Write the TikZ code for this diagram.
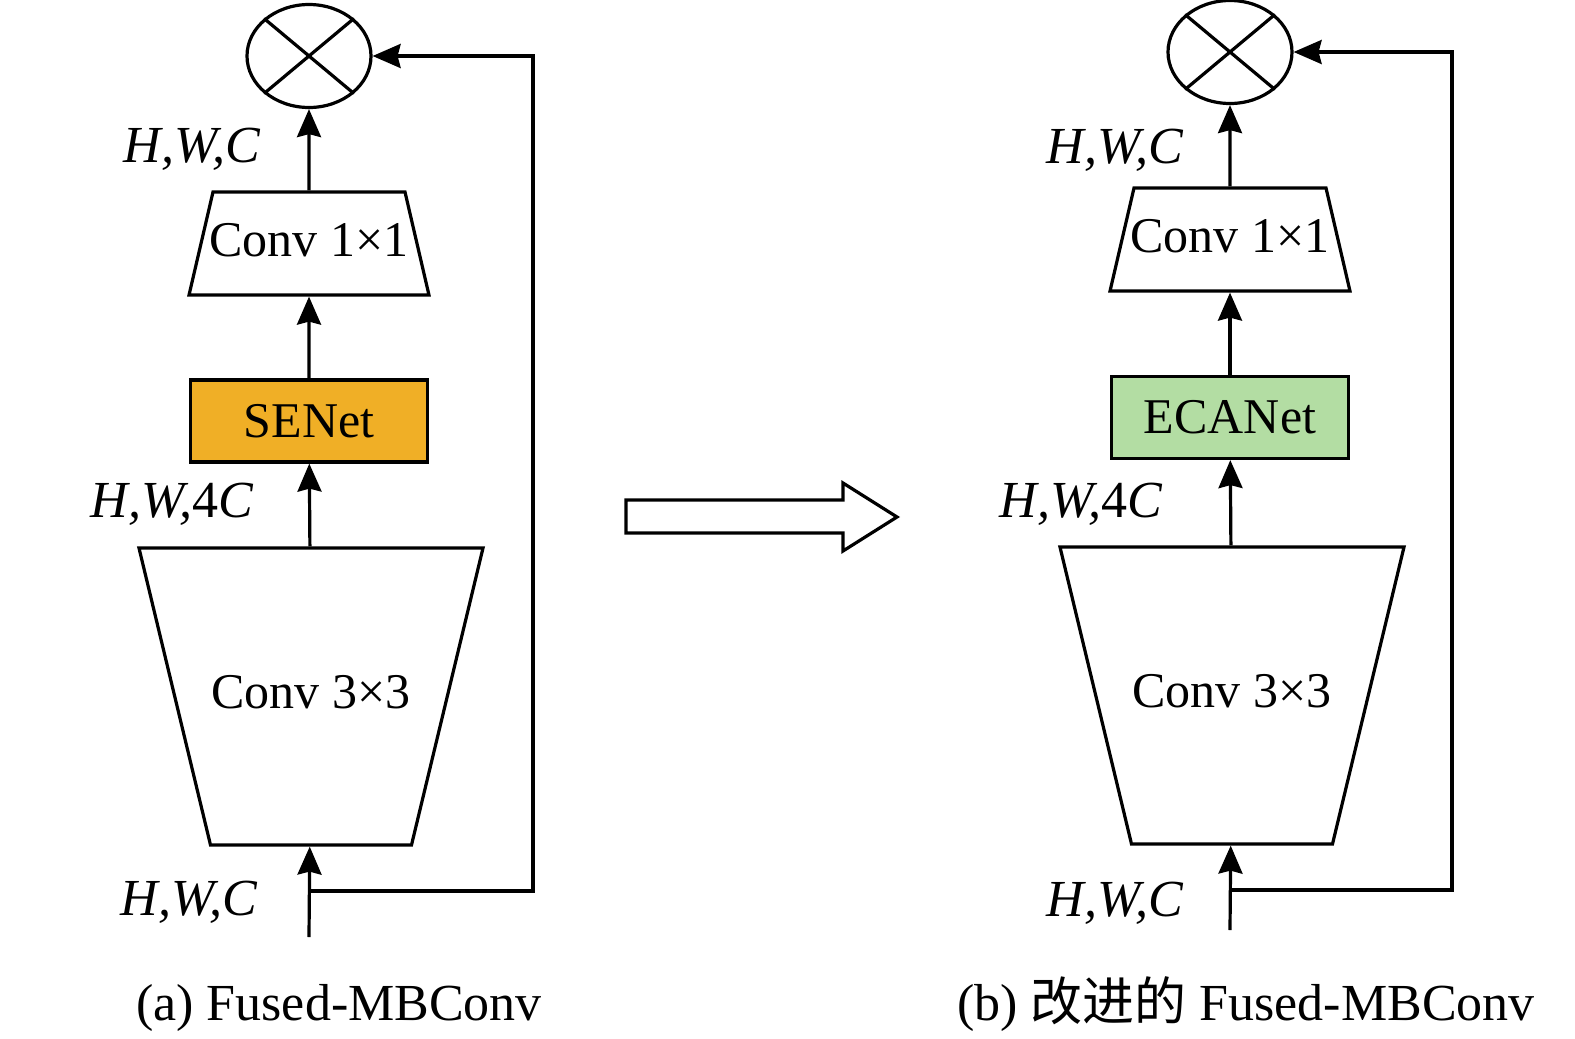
\documentclass[tikz,border=0pt]{standalone}
\usepackage{fontspec}
\setmainfont{Liberation Serif}
\newfontfamily\cjk{Noto Sans CJK SC}
\usepackage{tikz}
\usetikzlibrary{
  arrows.meta,
  positioning,
  shapes.geometric
}
\usepackage{xcolor}
\definecolor{secolor}{RGB}{240,175,38}
\definecolor{ecacolor}{RGB}{179,221,163}
% text box that fixes the body of a trapezium: width, depth, height
\newcommand{\trapbody}[4]{\makebox[#1]{\rule[-#2]{0pt}{#3}#4}}

\begin{document}
\begin{tikzpicture}[
    x=1pt, y=-1pt,
    line width=3.2pt,
    every node/.style={font=\fontsize{50}{60}\selectfont},
    convup/.style={draw, trapezium, trapezium angle=76.9, inner sep=0pt},
    convdown/.style={draw, trapezium, shape border rotate=180, trapezium angle=76.46,
      inner sep=0pt},
    attn/.style={draw, minimum width=237pt, minimum height=82pt, inner sep=0pt},
    mult/.style={draw, ellipse, minimum width=124pt, minimum height=103pt, inner sep=0pt},
    dim/.style={anchor=base, font=\fontsize{52}{60}\selectfont\itshape},
    caption/.style={anchor=base, font=\fontsize{52}{60}\selectfont},
    ed/.style={-{Stealth[length=28pt,width=24pt,inset=3pt]}}
  ]
    \useasboundingbox (0,0) rectangle (1575,1039);
    % (a) original block
    \node[mult] (mula) at (309,56) {};
    \draw (mula.north west) -- (mula.south east);
    \draw (mula.north east) -- (mula.south west);
    \node[convup] (c1a) at (309,243.5) {\trapbody{192pt}{39pt}{103pt}{Conv 1×1}};
    \node[attn, fill=secolor] (sea) at (309,421) {SENet};
    \node[convdown] (c3a) at (311,696.5) {\trapbody{201pt}{137pt}{297pt}{Conv 3×3}};
    \coordinate (ina) at (309,937);
    \coordinate (ska) at (309,891);
    \coordinate (ra) at (533,891);
    \draw[ed] (ina) -- (c3a);
    \draw[ed] (c3a) -- (sea);
    \draw[ed] (sea) -- (c1a);
    \draw[ed] (c1a) -- (mula);
    \draw[ed] (ska) -- (ra) |- (mula);
    \node[dim] (da1) at (192,162) {H,W,C};
    \node[dim] (da2) at (172,517) {H,W,\upshape4\itshape C};
    \node[dim] (da3) at (189,915) {H,W,C};
    \node[caption] (capa) at (339,1020) {(a) Fused-MBConv};
    % hollow arrow between the two blocks
    \draw (626,500) -- (843,500) -- (843,483) -- (897,517) -- (843,551)
      -- (843,533) -- (626,533) -- cycle;
    % (b) improved block
    \node[mult] (mulb) at (1230,52) {};
    \draw (mulb.north west) -- (mulb.south east);
    \draw (mulb.north east) -- (mulb.south west);
    \node[convup] (c1b) at (1230,239.5) {\trapbody{192pt}{39pt}{103pt}{Conv 1×1}};
    \node[attn, fill=ecacolor] (ecab) at (1230,417.5) {ECANet};
    \node[convdown] (c3b) at (1232,695.5) {\trapbody{201pt}{137pt}{297pt}{Conv 3×3}};
    \coordinate (inb) at (1230,930);
    \coordinate (skb) at (1230,890);
    \coordinate (rb) at (1452,890);
    \draw[ed] (inb) -- (c3b);
    \draw[ed] (c3b) -- (ecab);
    \draw[ed] (ecab) -- (c1b);
    \draw[ed] (c1b) -- (mulb);
    \draw[ed] (skb) -- (rb) |- (mulb);
    \node[dim] (db1) at (1115,163) {H,W,C};
    \node[dim] (db2) at (1081,517) {H,W,\upshape4\itshape C};
    \node[dim] (db3) at (1115,916) {H,W,C};
    \node[caption] (capb) at (1246,1020) {(b) {\cjk 改进的} Fused-MBConv};
\end{tikzpicture}
\end{document}
